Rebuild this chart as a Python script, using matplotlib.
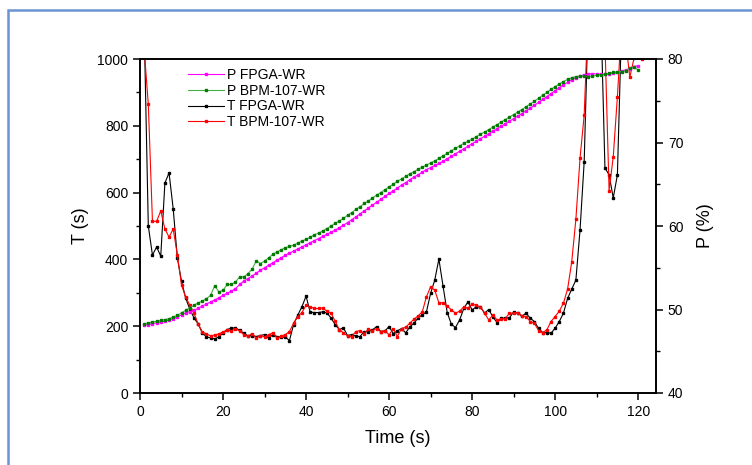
import numpy as np
import matplotlib
matplotlib.use("Agg")
import matplotlib.pyplot as plt
from matplotlib.patches import Rectangle
from matplotlib.ticker import MultipleLocator

plt.rcParams['font.family'] = ['Liberation Sans', 'DejaVu Sans']

# time axis (s)
t_T = np.arange(1, 122)
t_P = np.arange(1, 121)

# T FPGA-WR (black)
T_fpga = [1100, 500, 413, 437, 410, 629, 659, 551, 404, 335,
          284, 251, 225, 207, 180, 168, 165, 162, 168, 180,
          190, 194, 195, 188, 179, 171, 172, 169, 172, 175,
          164, 175, 169, 167, 168, 157, 205, 233, 258, 290,
          242, 241, 241, 243, 240, 225, 205, 190, 195, 172,
          175, 170, 169, 184, 184, 189, 199, 184, 186, 199,
          178, 186, 193, 180, 198, 209, 225, 234, 243, 298,
          338, 401, 320, 241, 206, 196, 219, 253, 273, 249,
          258, 258, 239, 250, 228, 211, 224, 224, 225, 243,
          239, 230, 239, 224, 214, 194, 181, 181, 179, 194,
          214, 239, 283, 311, 338, 488, 692, 1150, 1200, 1200,
          1150, 674, 653, 584, 653, 1100, 1150, 1150, 1150, 1100,
          1100]

# T BPM-107-WR (red)
T_bpm = [1030, 865, 514, 514, 545, 491, 467, 491, 413, 323,
         287, 263, 239, 207, 183, 177, 171, 174, 177, 183,
         188, 186, 192, 186, 175, 170, 178, 165, 172, 168,
         175, 180, 165, 170, 175, 184, 209, 229, 241, 262,
         258, 253, 253, 255, 245, 240, 215, 190, 180, 171,
         169, 184, 187, 178, 191, 187, 193, 184, 187, 174,
         193, 169, 193, 197, 209, 221, 231, 243, 288, 318,
         308, 270, 270, 261, 249, 239, 245, 258, 254, 267,
         262, 258, 239, 219, 233, 219, 221, 223, 239, 239,
         241, 231, 229, 214, 209, 187, 181, 189, 214, 229,
         245, 269, 311, 393, 520, 703, 832, 1150, 1200, 1200,
         1150, 1050, 606, 707, 887, 1100, 1050, 946, 1002, 1005,
         1000]

# P FPGA-WR (magenta)
P_fpga = [48.1, 48.2, 48.3, 48.4, 48.5, 48.6, 48.75, 48.9, 49.1, 49.35,
          49.6, 49.75, 49.9, 50.15, 50.4, 50.65, 50.9, 51.15, 51.4, 51.7,
          51.95, 52.2, 52.5, 53.0, 53.4, 53.7, 54.0, 54.35, 54.7, 55.0,
          55.3, 55.6, 55.9, 56.2, 56.5, 56.75, 57.0, 57.25, 57.5, 57.75,
          58.0, 58.25, 58.5, 58.75, 59.0, 59.25, 59.5, 59.8, 60.1, 60.4,
          60.75, 61.1, 61.45, 61.8, 62.15, 62.5, 62.85, 63.2, 63.55, 63.9,
          64.2, 64.55, 64.9, 65.2, 65.55, 65.85, 66.15, 66.45, 66.75, 67.0,
          67.25, 67.5, 67.75, 68.05, 68.35, 68.65, 68.95, 69.25, 69.55, 69.85,
          70.15, 70.45, 70.75, 71.05, 71.35, 71.65, 71.95, 72.25, 72.55, 72.85,
          73.15, 73.45, 73.8, 74.1, 74.45, 74.8, 75.15, 75.5, 75.85, 76.2,
          76.55, 76.9, 77.2, 77.5, 77.75, 77.95, 78.1, 78.2, 78.25, 78.2,
          78.15, 78.15, 78.2, 78.3, 78.4, 78.55, 78.7, 78.85, 79.1, 79.2]

# P BPM-107-WR (green)
P_bpm = [48.3, 48.4, 48.5, 48.6, 48.7, 48.8, 48.9, 49.1, 49.3, 49.6,
         49.9, 50.2, 50.5, 50.8, 51.0, 51.3, 51.7, 52.85, 52.1, 52.3,
         53.0, 53.0, 53.3, 53.9, 53.9, 54.3, 54.8, 55.85, 55.5, 55.8,
         56.2, 56.6, 56.9, 57.15, 57.4, 57.55, 57.7, 57.95, 58.2, 58.4,
         58.65, 58.95, 59.15, 59.4, 59.7, 60.0, 60.3, 60.6, 60.9, 61.3,
         61.6, 62.0, 62.3, 62.7, 63.0, 63.35, 63.7, 64.0, 64.35, 64.7,
         65.0, 65.35, 65.65, 65.95, 66.25, 66.5, 66.8, 67.05, 67.3, 67.55,
         67.8, 68.1, 68.4, 68.7, 69.0, 69.3, 69.6, 69.9, 70.15, 70.4,
         70.7, 71.0, 71.25, 71.55, 71.85, 72.15, 72.45, 72.75, 73.05, 73.35,
         73.65, 73.95, 74.3, 74.6, 74.95, 75.3, 75.65, 76.0, 76.35, 76.7,
         77.0, 77.3, 77.55, 77.75, 77.9, 77.95, 77.95, 77.9, 77.95, 78.05,
         78.1, 78.2, 78.3, 78.4, 78.45, 78.5, 78.6, 78.9, 79.0, 78.7]

fig = plt.figure(figsize=(7.52, 4.65), dpi=100)
ax = fig.add_axes([140/752, 1 - 393/465, 516/752, 334/465])
ax2 = ax.twinx()

lw = 0.8
ms = 1.9
l1, = ax2.plot(t_P, P_fpga, color='#ff00ff', lw=lw, marker='s', ms=ms, mec='#ff00ff')
l2, = ax2.plot(t_P, P_bpm, color='#45b045', lw=lw, marker='s', ms=ms,
               mfc='#007a00', mec='#007a00')
l3, = ax.plot(t_T, T_fpga, color='black', lw=lw, marker='s', ms=ms)
l4, = ax.plot(t_T, T_bpm, color='red', lw=lw, marker='s', ms=ms)

ax.set_xlim(0, 124.3)
ax.set_ylim(0, 1000)
ax2.set_ylim(40, 80)

ax.xaxis.set_major_locator(MultipleLocator(20))
ax.xaxis.set_minor_locator(MultipleLocator(10))
ax.yaxis.set_major_locator(MultipleLocator(200))
ax.yaxis.set_minor_locator(MultipleLocator(100))
ax2.yaxis.set_major_locator(MultipleLocator(10))
ax2.yaxis.set_minor_locator(MultipleLocator(5))

for a in (ax, ax2):
    a.tick_params(which='major', direction='out', length=5, width=1.1, labelsize=10)
    a.tick_params(which='minor', direction='out', length=3, width=1.0)
    for s in a.spines.values():
        s.set_linewidth(1.2)
ax.tick_params(top=False, right=False)
ax2.tick_params(left=False, top=False)

ax.set_xlabel("Time (s)", fontsize=13, labelpad=8)
ax.set_ylabel("T (s)", fontsize=13, labelpad=6)
ax2.set_ylabel("P (%)", fontsize=13, labelpad=10)

ax2.legend([l1, l2, l3, l4],
           ["P FPGA-WR", "P BPM-107-WR", "T FPGA-WR", "T BPM-107-WR"],
           loc='upper left', bbox_to_anchor=(0.075, 1.0), frameon=False,
           fontsize=10, handlelength=2.6, handletextpad=0.25, labelspacing=0.12,
           borderaxespad=0.25)

fig.add_artist(Rectangle((8/752, -0.2), 1.2, 1.2 - 10/465, transform=fig.transFigure,
                         fill=False, ec='#6b93d3', lw=1.8))

fig.savefig("out.png", dpi=100)
